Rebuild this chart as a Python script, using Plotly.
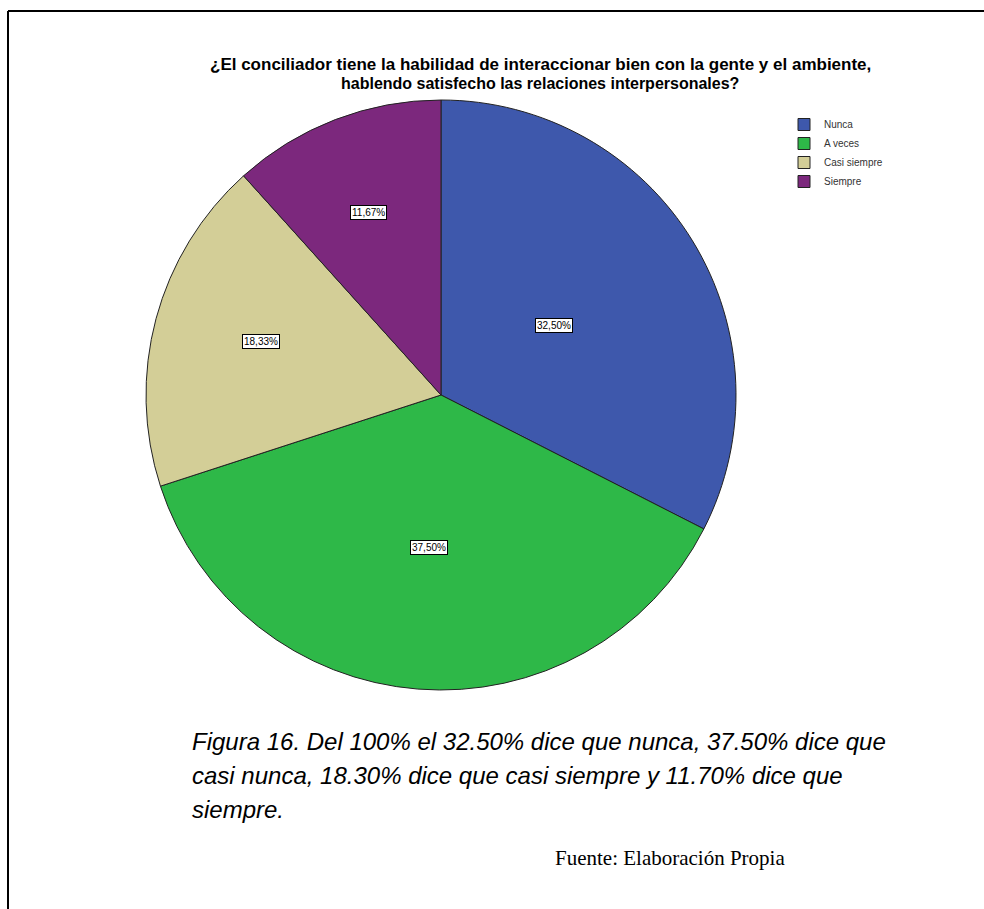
import math
import plotly.graph_objects as go

categories = ["Nunca", "A veces", "Casi siempre", "Siempre"]
values = [32.50, 37.50, 18.33, 11.67]
label_texts = ["32,50%", "37,50%", "18,33%", "11,67%"]
colors = ["#3E58AC", "#2EB848", "#D3CE97", "#7C287D"]
label_radius = [0.45, 0.52, 0.70, 0.69]

title_lines = ["¿El conciliador tiene la habilidad de interaccionar bien con la gente y el ambiente,",
               "hablendo satisfecho las relaciones interpersonales?"]
caption_lines = ["Figura 16. Del 100% el 32.50% dice que nunca, 37.50% dice que",
                 "casi nunca, 18.30% dice que casi siempre y 11.70% dice que",
                 "siempre."]
source_text = "Fuente: Elaboración Propia"

W, H = 984, 909
cx, cy, R = 441, 395, 295

fig = go.Figure()
fig.add_trace(go.Pie(
    labels=categories, values=values, sort=False, direction="clockwise", rotation=0,
    marker=dict(colors=colors, line=dict(color="#222222", width=1)),
    textinfo="none", hoverinfo="label+percent",
    domain=dict(x=[(cx - R) / W, (cx + R) / W], y=[1 - (cy + R) / H, 1 - (cy - R) / H]),
))

annotations = []
total = sum(values)
cum = 0.0
for v, t, f in zip(values, label_texts, label_radius):
    mid = (cum + v / 2) / total * 2 * math.pi
    cum += v
    px = cx + f * R * math.sin(mid)
    py = cy - f * R * math.cos(mid)
    annotations.append(dict(
        x=px / W, y=1 - py / H, xref="paper", yref="paper", text=t, showarrow=False,
        font=dict(family="Arial, Liberation Sans", size=10, color="black"),
        bgcolor="white", bordercolor="black", borderwidth=1, borderpad=1,
    ))

title_sizes = [17, 16]
title_y = [64, 83]
for line, sz, ty in zip(title_lines, title_sizes, title_y):
    annotations.append(dict(
        x=540 / W, y=1 - ty / H, xref="paper", yref="paper", text="<b>" + line + "</b>",
        showarrow=False, xanchor="center", yanchor="middle",
        font=dict(family="Arial, Liberation Sans", size=sz, color="black"),
    ))

for i, line in enumerate(caption_lines):
    annotations.append(dict(
        x=190 / W, y=1 - (741 + 34 * i) / H, xref="paper", yref="paper", text="<i>" + line + "</i>",
        showarrow=False, xanchor="left", yanchor="middle", align="left",
        font=dict(family="Arial, Liberation Sans", size=24, color="black"),
    ))

annotations.append(dict(
    x=553 / W, y=1 - 858 / H, xref="paper", yref="paper", text=source_text,
    showarrow=False, xanchor="left", yanchor="middle",
    font=dict(family="Liberation Serif, Times New Roman", size=21, color="black"),
))

fig.update_layout(
    width=W, height=H, margin=dict(l=0, r=0, t=0, b=0),
    paper_bgcolor="white", plot_bgcolor="white",
    showlegend=True,
    legend=dict(x=784 / W, y=1 - 110 / H, xanchor="left", yanchor="top",
                font=dict(family="Arial, Liberation Sans", size=10, color="#333333"),
                bgcolor="rgba(0,0,0,0)", itemwidth=30, tracegroupgap=0),
    annotations=annotations,
    shapes=[
        dict(type="line", xref="paper", yref="paper", x0=8 / W, x1=1.0, y0=1 - 11 / H, y1=1 - 11 / H,
             line=dict(color="black", width=2)),
        dict(type="line", xref="paper", yref="paper", x0=8 / W, x1=8 / W, y0=0, y1=1 - 11 / H,
             line=dict(color="black", width=2)),
    ],
)

fig.write_html("out.html")
